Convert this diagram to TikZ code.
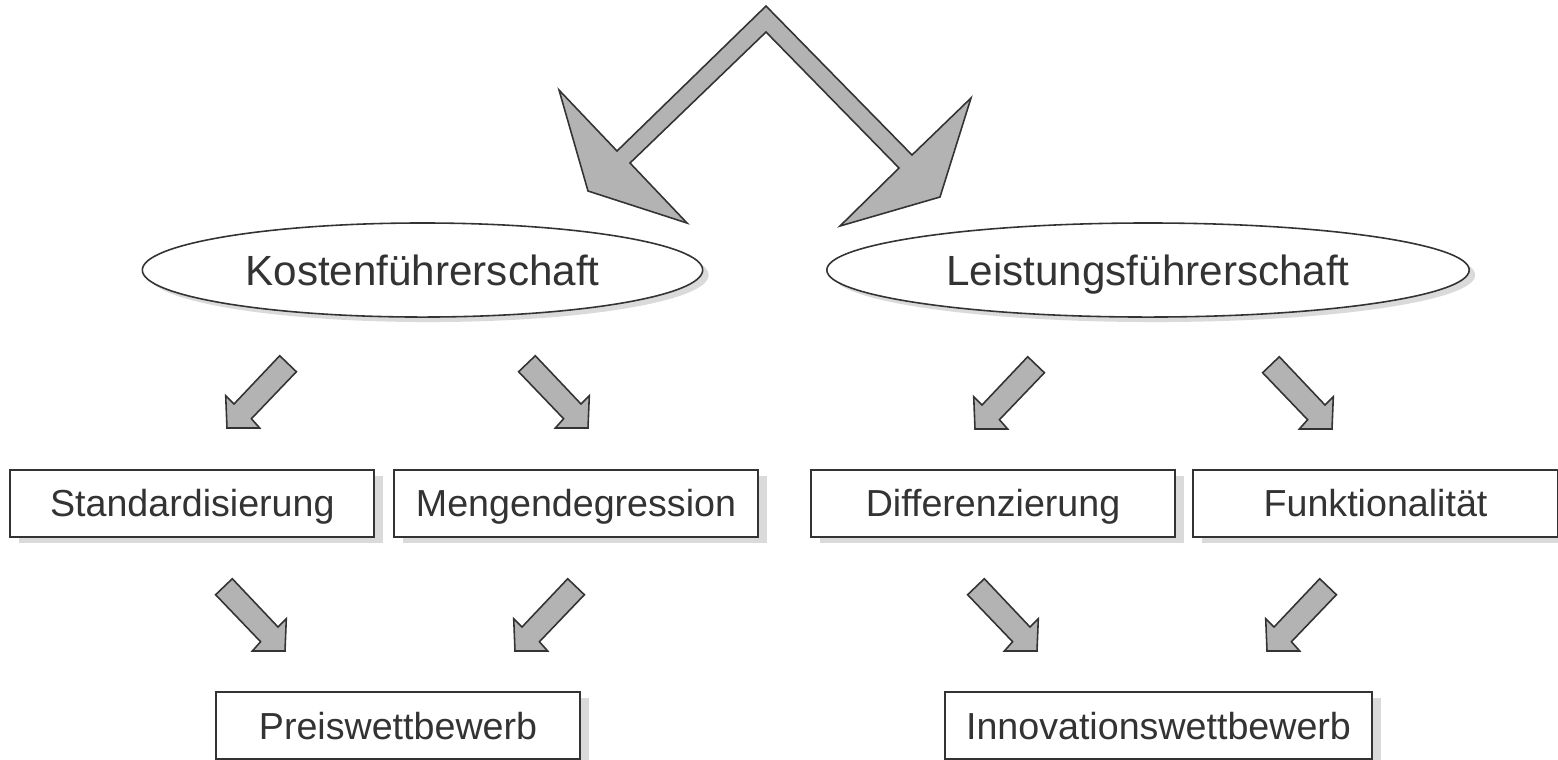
\documentclass[tikz,border=0pt]{standalone}
\usepackage{fontspec}
\setmainfont{Liberation Sans}
\usetikzlibrary{calc,shadows,shapes.geometric}
\definecolor{linegray}{HTML}{333333}
\definecolor{arrowgray}{HTML}{B3B3B3}
\definecolor{shadowgray}{HTML}{DADADA}
\tikzset{
  blockarrow/.style={draw=linegray,fill=arrowgray,line width=0.45pt},
  leader/.style={ellipse,draw=linegray,fill=white,line width=0.45pt,minimum height=0.94cm,inner sep=0pt,
    text=linegray,font=\fontsize{12pt}{14pt}\selectfont,text height=8.6pt,text depth=0pt,
    drop shadow={shadow xshift=0.06cm,shadow yshift=-0.05cm,fill=shadowgray,opacity=1}},
  factor/.style={rectangle,draw=linegray,fill=white,line width=0.6pt,minimum width=3.64cm,minimum height=0.665cm,inner sep=0pt,
    text=linegray,font=\fontsize{10.7pt}{13pt}\selectfont,text height=7.7pt,text depth=0pt,
    drop shadow={shadow xshift=0.09cm,shadow yshift=-0.06cm,fill=shadowgray,opacity=1}},
  downleft/.pic={
    \draw[blockarrow] (0,0) -- (-1.3,-32.3) -- (7,-24) -- (52.7,-72.3) -- (69.4,-56.3) -- (24.4,-9.3) -- (32.7,0) -- cycle;
  }
}

\begin{document}
\begin{tikzpicture}[x=0.01cm,y=-0.01cm]
            \useasboundingbox (0,0) rectangle (1558,759);
            \draw[blockarrow] (766,6) -- (617,151) -- (559,90) -- (588,191) -- (687,223) -- (630,163) -- (766,32)
                -- (899,168) -- (840,226) -- (940,197) -- (971,98) -- (912,155) -- cycle;
            \node[leader,minimum width=5.6cm] (kosten) at (422.5,270) {Kostenführerschaft};
            \node[leader,minimum width=6.42cm] (leistung) at (1148,270) {Leistungsführerschaft};
            \node[factor] (std) at (192.3,503.3) {Standardisierung};
            \node[factor] (meng) at (576,503.3) {Mengendegression};
            \node[factor] (diff) at (993,503.3) {Differenzierung};
            \node[factor] (funk) at (1375.5,503.3) {Funktionalität};
            \node[factor] (preis) at (398,725.5) {Preiswettbewerb};
            \node[factor,minimum width=4.27cm] (innov) at (1158.5,725.5) {Innovationswettbewerb};
            \foreach \tx/\ty/\flip in {227/428/1,588/428/-1,975/429/1,1332/429/-1,285/651/-1,515/651/1,1037/651/-1,1267/651/1} {
                \pic[xscale=\flip] at (\tx,\ty) {downleft};
            }
\end{tikzpicture}
\end{document}
